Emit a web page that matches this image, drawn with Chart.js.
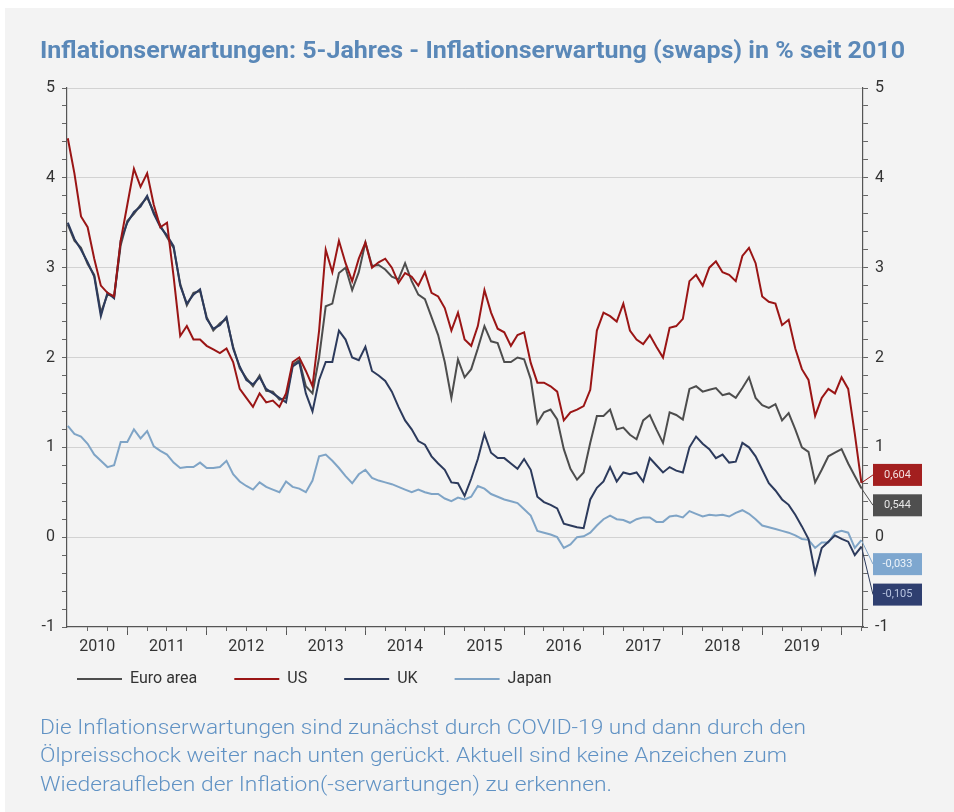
<!DOCTYPE html>
<html lang="de">
<head>
<meta charset="utf-8">
<title>Inflationserwartungen</title>
<script src="https://cdn.jsdelivr.net/npm/chart.js@4.4.1/dist/chart.umd.min.js"></script>
<style>
  html, body { margin: 0; padding: 0; background: #fff; }
  body { width: 954px; height: 812px; position: relative; overflow: hidden; }
  #panel { position: absolute; left: 5px; top: 8px; right: 0; bottom: 0; background: #f3f3f3; }
  #chart { position: absolute; left: 0; top: 0; }
  .txt { position: absolute; left: 40px; color: #5a88b8; white-space: nowrap; transform-origin: 0 0; line-height: 1; }
  #title { top: 37px; font: bold 23px 'Roboto', sans-serif; }
  .cap { font: 300 20px 'Roboto', sans-serif; color: #6092c4; }
</style>
</head>
<body>
<div id="panel"></div>
<canvas id="chart" width="954" height="812"></canvas>
<div id="title" class="txt" data-w="865">Inflationserwartungen: 5-Jahres - Inflationserwartung (swaps) in % seit 2010</div>
<div class="txt cap" style="top:715px" data-w="766">Die Inflationserwartungen sind zunächst durch COVID-19 und dann durch den</div>
<div class="txt cap" style="top:743px" data-w="747">Ölpreisschock weiter nach unten gerückt. Aktuell sind keine Anzeichen zum</div>
<div class="txt cap" style="top:772px" data-w="572">Wiederaufleben der Inflation(-serwartungen) zu erkennen.</div>
<script>
// Monatswerte April 2010 bis April 2020
const months = [];
for (let i = 0; i < 121; i++) months.push(2010.25 + i / 12);

const yearLabels = ['2010', '2011', '2012', '2013', '2014', '2015', '2016', '2017', '2018', '2019'];
const yMajor = [-1, 0, 1, 2, 3, 4, 5];

const euroArea = [3.48, 3.30, 3.22, 3.04, 2.92, 2.50, 2.70, 2.68, 3.25, 3.52,
  3.60, 3.70, 3.78, 3.62, 3.47, 3.34, 3.22, 2.82, 2.58, 2.72,
  2.74, 2.45, 2.30, 2.38, 2.43, 2.12, 1.88, 1.77, 1.68, 1.80,
  1.63, 1.62, 1.53, 1.55, 1.92, 1.97, 1.68, 1.60, 2.00, 2.57,
  2.60, 2.94, 3.00, 2.75, 2.95, 3.28, 3.02, 3.03, 2.98, 2.90,
  2.87, 3.05, 2.85, 2.70, 2.65, 2.45, 2.25, 1.95, 1.55, 1.98,
  1.78, 1.87, 2.10, 2.35, 2.18, 2.16, 1.95, 1.95, 2.00, 1.98,
  1.76, 1.27, 1.39, 1.42, 1.31, 0.98, 0.76, 0.64, 0.72, 1.05,
  1.35, 1.35, 1.42, 1.20, 1.22, 1.14, 1.09, 1.30, 1.36, 1.20,
  1.05, 1.39, 1.36, 1.31, 1.65, 1.68, 1.62, 1.64, 1.66, 1.58,
  1.60, 1.55, 1.66, 1.78, 1.55, 1.47, 1.44, 1.48, 1.30, 1.38,
  1.20, 1.00, 0.95, 0.61, 0.75, 0.90, 0.94, 0.98, 0.82, 0.68,
  0.544];

const us = [4.44, 4.05, 3.57, 3.45, 3.10, 2.80, 2.72, 2.68, 3.30, 3.70,
  4.10, 3.90, 4.05, 3.70, 3.45, 3.50, 2.90, 2.24, 2.35, 2.20,
  2.20, 2.13, 2.09, 2.05, 2.10, 1.95, 1.65, 1.55, 1.45, 1.60,
  1.50, 1.52, 1.45, 1.60, 1.95, 2.00, 1.85, 1.68, 2.30, 3.20,
  2.95, 3.30, 3.05, 2.85, 3.10, 3.28, 3.00, 3.06, 3.10, 3.00,
  2.83, 2.94, 2.90, 2.80, 2.95, 2.72, 2.68, 2.55, 2.30, 2.50,
  2.20, 2.13, 2.35, 2.75, 2.50, 2.32, 2.28, 2.13, 2.25, 2.28,
  1.94, 1.72, 1.72, 1.68, 1.62, 1.30, 1.39, 1.42, 1.46, 1.64,
  2.30, 2.50, 2.46, 2.40, 2.60, 2.30, 2.20, 2.15, 2.25, 2.12,
  2.00, 2.33, 2.35, 2.43, 2.85, 2.92, 2.80, 3.00, 3.07, 2.95,
  2.92, 2.85, 3.13, 3.22, 3.05, 2.68, 2.62, 2.60, 2.36, 2.42,
  2.10, 1.87, 1.75, 1.35, 1.55, 1.65, 1.60, 1.78, 1.65, 1.15,
  0.604];

const uk = [3.50, 3.32, 3.20, 3.06, 2.90, 2.46, 2.72, 2.66, 3.30, 3.50,
  3.62, 3.68, 3.80, 3.60, 3.45, 3.36, 3.24, 2.80, 2.60, 2.70,
  2.76, 2.43, 2.32, 2.36, 2.45, 2.10, 1.90, 1.75, 1.70, 1.78,
  1.65, 1.60, 1.55, 1.50, 1.90, 1.95, 1.60, 1.40, 1.75, 1.95,
  1.95, 2.30, 2.20, 2.00, 1.97, 2.12, 1.85, 1.80, 1.74, 1.62,
  1.45, 1.30, 1.20, 1.07, 1.03, 0.90, 0.82, 0.75, 0.61, 0.60,
  0.46, 0.65, 0.87, 1.15, 0.94, 0.88, 0.88, 0.82, 0.76, 0.87,
  0.75, 0.45, 0.39, 0.36, 0.32, 0.15, 0.13, 0.11, 0.10, 0.42,
  0.55, 0.62, 0.78, 0.62, 0.72, 0.70, 0.72, 0.62, 0.88, 0.80,
  0.72, 0.78, 0.74, 0.72, 1.00, 1.12, 1.04, 0.98, 0.88, 0.92,
  0.83, 0.84, 1.05, 1.00, 0.90, 0.75, 0.60, 0.52, 0.42, 0.36,
  0.25, 0.12, -0.02, -0.40, -0.12, -0.05, 0.02, -0.02, -0.05, -0.20,
  -0.105];

const japan = [1.24, 1.15, 1.12, 1.04, 0.92, 0.85, 0.78, 0.80, 1.06, 1.06,
  1.20, 1.10, 1.18, 1.01, 0.96, 0.92, 0.83, 0.77, 0.78, 0.78,
  0.83, 0.77, 0.77, 0.78, 0.85, 0.70, 0.62, 0.57, 0.53, 0.61,
  0.56, 0.53, 0.50, 0.62, 0.56, 0.54, 0.50, 0.63, 0.90, 0.92,
  0.85, 0.77, 0.68, 0.60, 0.70, 0.75, 0.66, 0.63, 0.61, 0.59,
  0.56, 0.53, 0.50, 0.53, 0.50, 0.48, 0.48, 0.43, 0.40, 0.44,
  0.42, 0.45, 0.57, 0.54, 0.48, 0.45, 0.42, 0.40, 0.38, 0.31,
  0.24, 0.07, 0.05, 0.03, 0.00, -0.12, -0.08, 0.00, 0.01, 0.05,
  0.13, 0.20, 0.24, 0.20, 0.19, 0.16, 0.20, 0.22, 0.22, 0.17,
  0.17, 0.23, 0.24, 0.22, 0.29, 0.26, 0.23, 0.25, 0.24, 0.25,
  0.23, 0.27, 0.30, 0.26, 0.20, 0.13, 0.11, 0.09, 0.07, 0.05,
  0.02, -0.02, -0.03, -0.12, -0.06, -0.06, 0.05, 0.07, 0.05, -0.12,
  -0.033];

// Titel und Text auf die Breite der Vorlage bringen
document.querySelectorAll('.txt').forEach(el => {
  const w = el.getBoundingClientRect().width;
  el.style.transform = 'scaleX(' + (parseFloat(el.dataset.w) / w) + ')';
});

const FONT = "'Roboto', 'DejaVu Sans', sans-serif";
Chart.defaults.font.family = FONT;
Chart.defaults.font.size = 16;
Chart.defaults.color = '#333';

const xMin = 2010.24, xMax = 2020.27;
// Jahreslabels in der Mitte des sichtbaren Jahres
const yearLabelPos = yearLabels.map(y => (Math.max(+y, xMin) + Math.min(+y + 1, xMax)) / 2);
const quarterTicks = [];
for (let q = 2010.5; q <= xMax; q += 0.25) quarterTicks.push(q);
const xTicks = quarterTicks.concat(yearLabelPos.filter(p => !quarterTicks.some(q => Math.abs(q - p) < 1e-6))).sort((a, b) => a - b);
const yearStarts = yearLabels.map(y => +y + 1);
const yTicks = [];
for (let k = 0; k <= 30; k++) yTicks.push(Math.round((-1 + k * 0.2) * 10) / 10);

const isInt = v => Math.abs(v - Math.round(v)) < 1e-6;
const labelAt = v => {
  const i = yearLabelPos.findIndex(p => Math.abs(p - v) < 1e-6);
  return i >= 0 ? yearLabels[i] : '';
};
const labelOnly = v => !quarterTicks.some(q => Math.abs(q - v) < 1e-6);

const yAxis = (pos) => ({
  position: pos, min: -1, max: 5,
  afterFit: s => { s.width = pos === 'left' ? 27 : 30; },
  afterBuildTicks: s => { s.ticks = yTicks.map(v => ({ value: v })); },
  ticks: {
    autoSkip: false, padding: 7, color: '#333',
    callback: v => (isInt(v) && yMajor.includes(Math.round(v))) ? String(Math.round(v)) : ''
  },
  grid: {
    drawOnChartArea: pos === 'left',
    color: c => (c.tick && isInt(c.tick.value) && c.tick.value > -1) ? '#d2d2d2' : 'rgba(0,0,0,0)',
    tickColor: '#666', tickLength: 5
  },
  border: { color: '#555', width: 1.2 }
});

// Endwerte als farbige Kästchen rechts neben der Achse
const endLabels = {
  id: 'endLabels',
  afterDraw(chart) {
    const { ctx, chartArea } = chart;
    ctx.save();
    chart.data.datasets.forEach((ds, i) => {
      const meta = chart.getDatasetMeta(i);
      const last = meta.data[meta.data.length - 1];
      const v = ds.data[ds.data.length - 1];
      const bx = chartArea.right + 10, bw = 49, bh = 22;
      const by = last.y + ds.labelShift;
      ctx.strokeStyle = ds.borderColor;
      ctx.lineWidth = 1;
      ctx.beginPath();
      ctx.moveTo(last.x, last.y);
      ctx.lineTo(bx, by);
      ctx.stroke();
      ctx.fillStyle = ds.labelBg;
      ctx.fillRect(bx, by - bh / 2, bw, bh);
      ctx.fillStyle = ds.labelText;
      ctx.font = '11px ' + FONT;
      ctx.textAlign = 'center';
      ctx.textBaseline = 'middle';
      ctx.fillText(v.toFixed(3).replace('.', ','), bx + bw / 2, by);
    });
    ctx.restore();
  }
};

// Legende etwas näher an die Achse rücken
const legendLift = {
  id: 'legendLift',
  afterLayout(chart) {
    if (chart.legend) { chart.legend.top -= 29; chart.legend.bottom -= 29; }
  }
};

new Chart(document.getElementById('chart'), {
  type: 'line',
  data: {
    labels: months,
    datasets: [
      { label: 'Euro area', data: euroArea, borderColor: '#4d4d4d', backgroundColor: '#4d4d4d', order: 2,
        labelBg: '#4f4f4f', labelText: '#e6e6e6', labelShift: 17 },
      { label: 'US', data: us, borderColor: '#9a1515', backgroundColor: '#9a1515', order: 0,
        labelBg: '#a31f1f', labelText: '#f3dede', labelShift: -8 },
      { label: 'UK', data: uk, borderColor: '#2c3a5c', backgroundColor: '#2c3a5c', order: 1,
        labelBg: '#2f3f70', labelText: '#b8c4e0', labelShift: 48 },
      { label: 'Japan', data: japan, borderColor: '#7fa4c6', backgroundColor: '#7fa4c6', order: 3,
        labelBg: '#7ea7cf', labelText: '#eef4fa', labelShift: 24 }
    ]
  },
  options: {
    responsive: false,
    animation: false,
    devicePixelRatio: 1,
    layout: { padding: { left: 40, right: 61, top: 88, bottom: 86 } },
    elements: { point: { radius: 0 }, line: { tension: 0, borderWidth: 2 } },
    plugins: {
      tooltip: { enabled: false },
      legend: {
        position: 'bottom', align: 'start',
        labels: {
          boxWidth: 45, boxHeight: 2, padding: 37, color: '#333', font: { size: 16 },
          sort: (a, b) => a.datasetIndex - b.datasetIndex,
          generateLabels: chart => Chart.defaults.plugins.legend.labels.generateLabels(chart)
            .map(l => Object.assign(l, { lineWidth: 0 }))
        }
      }
    },
    scales: {
      xYears: {
        axis: 'x', type: 'linear', position: 'bottom', min: xMin, max: xMax, weight: 0,
        afterFit: s => { s.height = 0; },
        afterBuildTicks: s => { s.ticks = yearStarts.map(v => ({ value: v })); },
        ticks: { autoSkip: false, maxRotation: 0, callback: () => '' },
        grid: { drawOnChartArea: false, tickLength: 8, tickColor: '#555' },
        border: { display: false }
      },
      x: {
        type: 'linear', position: 'bottom', min: xMin, max: xMax, weight: 1,
        afterFit: s => { s.height = 36; },
        afterBuildTicks: s => { s.ticks = xTicks.map(v => ({ value: v })); },
        ticks: { autoSkip: false, maxRotation: 0, minRotation: 0, padding: 6, color: '#333', callback: v => labelAt(v) },
        grid: {
          drawOnChartArea: false, tickLength: 4,
          tickColor: c => (c.tick && labelOnly(c.tick.value)) ? 'rgba(0,0,0,0)' : '#666'
        },
        border: { color: '#555', width: 1.2 }
      },
      y: yAxis('left'),
      y2: yAxis('right')
    }
  },
  plugins: [endLabels, legendLift]
});
</script>
</body>
</html>
